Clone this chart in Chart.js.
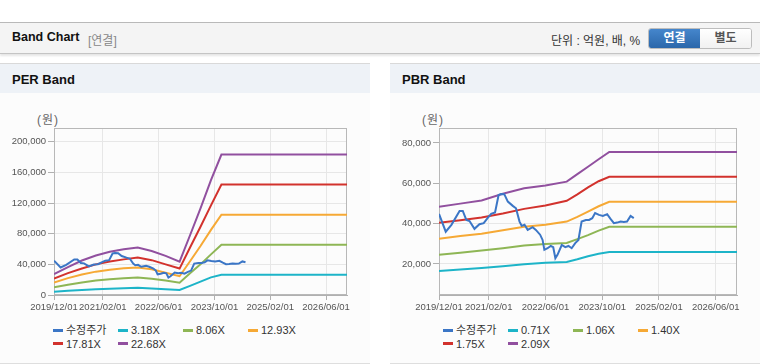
<!DOCTYPE html>
<html>
<head>
<meta charset="utf-8">
<script src="https://cdn.jsdelivr.net/npm/chart.js@4.4.1/dist/chart.umd.min.js"></script>
<style>
    body { margin: 0; background: #fff; font-family: "Liberation Sans", "Noto Sans CJK KR", sans-serif; width: 760px; height: 364px; position: relative; overflow: hidden; }
    .top { position: absolute; left: 0; top: 22px; width: 760px; height: 30px; background: #f4f4f4; border-top: 1px solid #b9b9b9; border-bottom: 1px solid #c4c4c4; box-shadow: 0 2px 2px rgba(0,0,0,0.10); }
    .top .ttl { position: absolute; left: 12px; top: 7px; font-size: 12.5px; font-weight: bold; color: #111; }
    .top .sub { position: absolute; left: 88px; top: 8px; font-size: 12px; color: #888; }
    .top .unit { position: absolute; left: 551px; top: 8px; font-size: 12px; color: #333; }
    .btns { position: absolute; left: 648px; top: 5px; width: 102px; height: 19px; border: 1px solid #bdbdbd; border-radius: 3px; overflow: hidden; background: #fff; }
    .btns span { position: absolute; top: 0; width: 51px; height: 19px; line-height: 19px; text-align: center; font-size: 12px; font-weight: bold; }
    .btns .on { left: 0; background: linear-gradient(#4586cc, #2b67aa); color: #fff; }
    .btns .off { left: 51px; color: #555; background: linear-gradient(#fff, #f1f1f1); }

    /* panels */
    .panel { position: absolute; top: 63px; width: 370px; height: 299px; background: #fcfcfc; border-top: 1px solid #d9d9d9; border-bottom: 1px solid #dedede; }
    .panel .ph { height: 29px; line-height: 31px; background: #eef2f7; padding-left: 12px; font-size: 13px; font-weight: bold; color: #111; }
    .panel .won { position: absolute; top: 46px; font-size: 12px; color: #666; letter-spacing: 1px; }
    .panel canvas { position: absolute; left: 0; top: 29px; }
    .legend { position: absolute; top: 259px; font-size: 11px; color: #333; }
    .legend .it { position: absolute; white-space: nowrap; height: 14px; line-height: 14px; }
    .legend .mk { display: inline-block; width: 10px; height: 3px; vertical-align: middle; margin-right: 3px; position: relative; top: -1px; }
</style>
</head>
<body>

<div class="top">
    <span class="ttl">Band Chart</span>
    <span class="sub">[연결]</span>
    <span class="unit">단위 : 억원, 배, %</span>
    <div class="btns"><span class="on">연결</span><span class="off">별도</span></div>
</div>

<div class="panel" style="left:0">
    <div class="ph">PER Band</div>
    <span class="won" style="left:37px">(원)</span>
    <canvas id="perChart" width="370" height="230"></canvas>
    <div class="legend" id="perLegend" style="left:53px"></div>
</div>

<div class="panel" style="left:390px">
    <div class="ph">PBR Band</div>
    <span class="won" style="left:32px">(원)</span>
    <canvas id="pbrChart" width="370" height="230"></canvas>
    <div class="legend" id="pbrLegend" style="left:53px"></div>
</div>

<script>
// x is months counted from 2019/12
var xTickMonths = [0, 14, 30, 46, 62, 78];
var xTickLabels = ["2019/12/01", "2021/02/01", "2022/06/01", "2023/10/01", "2025/02/01", "2026/06/01"];

// 수정주가 (same series in both charts)
var priceMonths = [0, 1.9, 3.5, 5.8, 6.7, 7.7, 8.6, 10.0, 11.4, 12.6, 13.8, 14.7, 15.8, 16.8, 17.5, 18.4,
    19.4, 20.8, 21.7, 22.7, 23.3, 24.1, 25.0, 26.4, 27.3, 28.5, 29.2, 29.7, 30.6, 31.5, 32.2, 32.8, 33.4,
    34.6, 35.6, 36.5, 37.4, 38.4, 39.3, 40.2, 41.4, 42.3, 43.2, 44.0, 45.1, 46.2, 47.4, 48.4, 49.3, 50.2,
    51.2, 52.1, 53.0, 54.0, 54.9];
var priceValues = [44800, 36000, 39400, 46300, 46300, 41800, 41300, 37400, 39700, 40200, 43000, 44800, 45500, 54200, 54700, 54600,
    50900, 48800, 47600, 41000, 38900, 39400, 36900, 38200, 36900, 34500, 31900, 27000, 27800, 28900, 28300, 22800, 24500,
    29400, 28300, 28900, 27800, 30300, 31900, 41000, 41800, 41800, 42700, 45200, 44300, 43800, 44700, 42200, 40200, 40500,
    41000, 40800, 41000, 43800, 42700];

// PER band
var perMonths = [0, 4, 8, 12, 16, 20, 24, 28, 32, 36, 39, 42, 45, 48, 84];
var perLabels = ["3.18X", "8.06X", "12.93X", "17.81X", "22.68X"];
var per318 = [4300, 5500, 6500, 7500, 8200, 8800, 9500, 8500, 7600, 6600, 12000, 17500, 23000, 26400, 26400];
var per806 = [10200, 13500, 16400, 19000, 20600, 21800, 22700, 21200, 18800, 16100, 28500, 40000, 53000, 65500, 65500];
var per1293 = [16300, 22000, 26700, 30500, 33000, 34800, 35800, 33500, 29000, 24500, 44000, 64000, 85000, 104800, 104800];
var per1781 = [21500, 28500, 34500, 40000, 43800, 46500, 48800, 45500, 40000, 34500, 62000, 89000, 117000, 144100, 144100];
var per2268 = [27300, 36500, 45000, 51500, 56500, 59800, 62000, 57500, 51000, 43500, 78000, 113000, 150000, 183400, 183400];
var perTicks = [0, 40000, 80000, 120000, 160000, 200000];

// PBR band
var pbrMonths = [0, 6, 12, 18, 24, 30, 36, 39, 42, 45, 48, 84];
var pbrLabels = ["0.71X", "1.06X", "1.40X", "1.75X", "2.09X"];
var pbr071 = [16500, 17200, 18000, 18900, 19800, 20600, 21000, 22300, 23800, 25000, 25900, 25900];
var pbr106 = [24500, 25600, 26700, 27800, 29100, 29900, 30400, 32300, 34300, 36500, 38400, 38400];
var pbr140 = [32500, 33800, 35000, 36700, 38400, 39400, 41000, 43300, 45900, 48600, 50800, 50800];
var pbr175 = [40400, 41700, 43000, 45000, 47300, 49000, 51300, 54500, 58000, 61000, 63200, 63200];
var pbr209 = [48300, 49900, 51500, 54800, 57500, 58900, 60800, 64500, 68200, 71900, 75500, 75500];
var pbrTicks = [20000, 40000, 60000, 80000];

var colors = ["#3b76c6", "#1db4c8", "#8eb655", "#f6a935", "#d2322d", "#91509f"];
var tickFont = { family: "'Liberation Sans'", size: 9.5 };

function pts(xs, ys) {
    return ys.map(function(v, i) { return { x: xs[i], y: v }; });
}

// gray box round the plot area
var boxPlugin = {
    id: 'plotBox',
    beforeDatasetsDraw: function(chart) {
        var a = chart.chartArea, c = chart.ctx;
        c.save();
        c.strokeStyle = '#b8b8b8';
        c.lineWidth = 1;
        c.strokeRect(Math.round(a.left) + 0.5, Math.round(a.top) + 0.5, Math.round(a.right - a.left) - 1, Math.round(a.bottom - a.top) - 1);
        c.restore();
    }
};

function makeChart(id, legendId, bandMonths, bandLabels, bands, yMin, yMax, yTicks, yWidth) {
    var datasets = [{ label: "수정주가", data: pts(priceMonths, priceValues) }];
    bands.forEach(function(b, i) {
        datasets.push({ label: bandLabels[i], data: pts(bandMonths, b) });
    });
    datasets.forEach(function(d, i) {
        d.borderColor = colors[i];
        d.backgroundColor = colors[i];
        d.borderWidth = 2;
        d.pointRadius = 0;
        d.tension = 0;
        d.fill = false;
    });

    var chart = new Chart(document.getElementById(id), {
        type: 'line',
        data: { datasets: datasets },
        options: {
            responsive: false,
            animation: false,
            layout: { padding: { top: 35, right: 23, left: 0, bottom: 0 } },
            plugins: { legend: { display: false }, tooltip: { enabled: false } },
            scales: {
                x: {
                    type: 'linear', min: 0, max: 84,
                    afterBuildTicks: function(s) { s.ticks = xTickMonths.map(function(v) { return { value: v }; }); },
                    afterFit: function(s) { s.height = 28; },
                    ticks: {
                        autoSkip: false, maxRotation: 0, padding: 2, color: '#555', font: tickFont,
                        callback: function(v) { return xTickLabels[xTickMonths.indexOf(v)]; }
                    },
                    grid: { color: '#e7e7e7', tickColor: '#b0b0b0', tickLength: 5 },
                    border: { color: '#b0b0b0' }
                },
                y: {
                    min: yMin, max: yMax,
                    afterBuildTicks: function(s) { s.ticks = yTicks.map(function(v) { return { value: v }; }); },
                    afterFit: function(s) { s.width = yWidth; },
                    ticks: {
                        padding: 2, color: '#555', font: tickFont,
                        callback: function(v) { return v.toLocaleString('en-US'); }
                    },
                    grid: { color: '#e7e7e7', tickColor: '#b0b0b0', tickLength: 6 },
                    border: { color: '#b0b0b0' }
                }
            }
        },
        plugins: [boxPlugin]
    });

    // html legend in fixed columns
    var lg = document.getElementById(legendId);
    chart.data.datasets.forEach(function(d, i) {
        var it = document.createElement('div');
        it.className = 'it';
        it.style.left = (i % 4) * 65 + 'px';
        it.style.top = Math.floor(i / 4) * 13.5 + 'px';
        it.innerHTML = '<span class="mk" style="background:' + d.borderColor + '"></span>' + d.label;
        lg.appendChild(it);
    });
    return chart;
}

makeChart('perChart', 'perLegend', perMonths, perLabels, [per318, per806, per1293, per1781, per2268], 0, 218000, perTicks, 54);
makeChart('pbrChart', 'pbrLegend', pbrMonths, pbrLabels, [pbr071, pbr106, pbr140, pbr175, pbr209], 4600, 87400, pbrTicks, 49);
</script>
</body>
</html>
